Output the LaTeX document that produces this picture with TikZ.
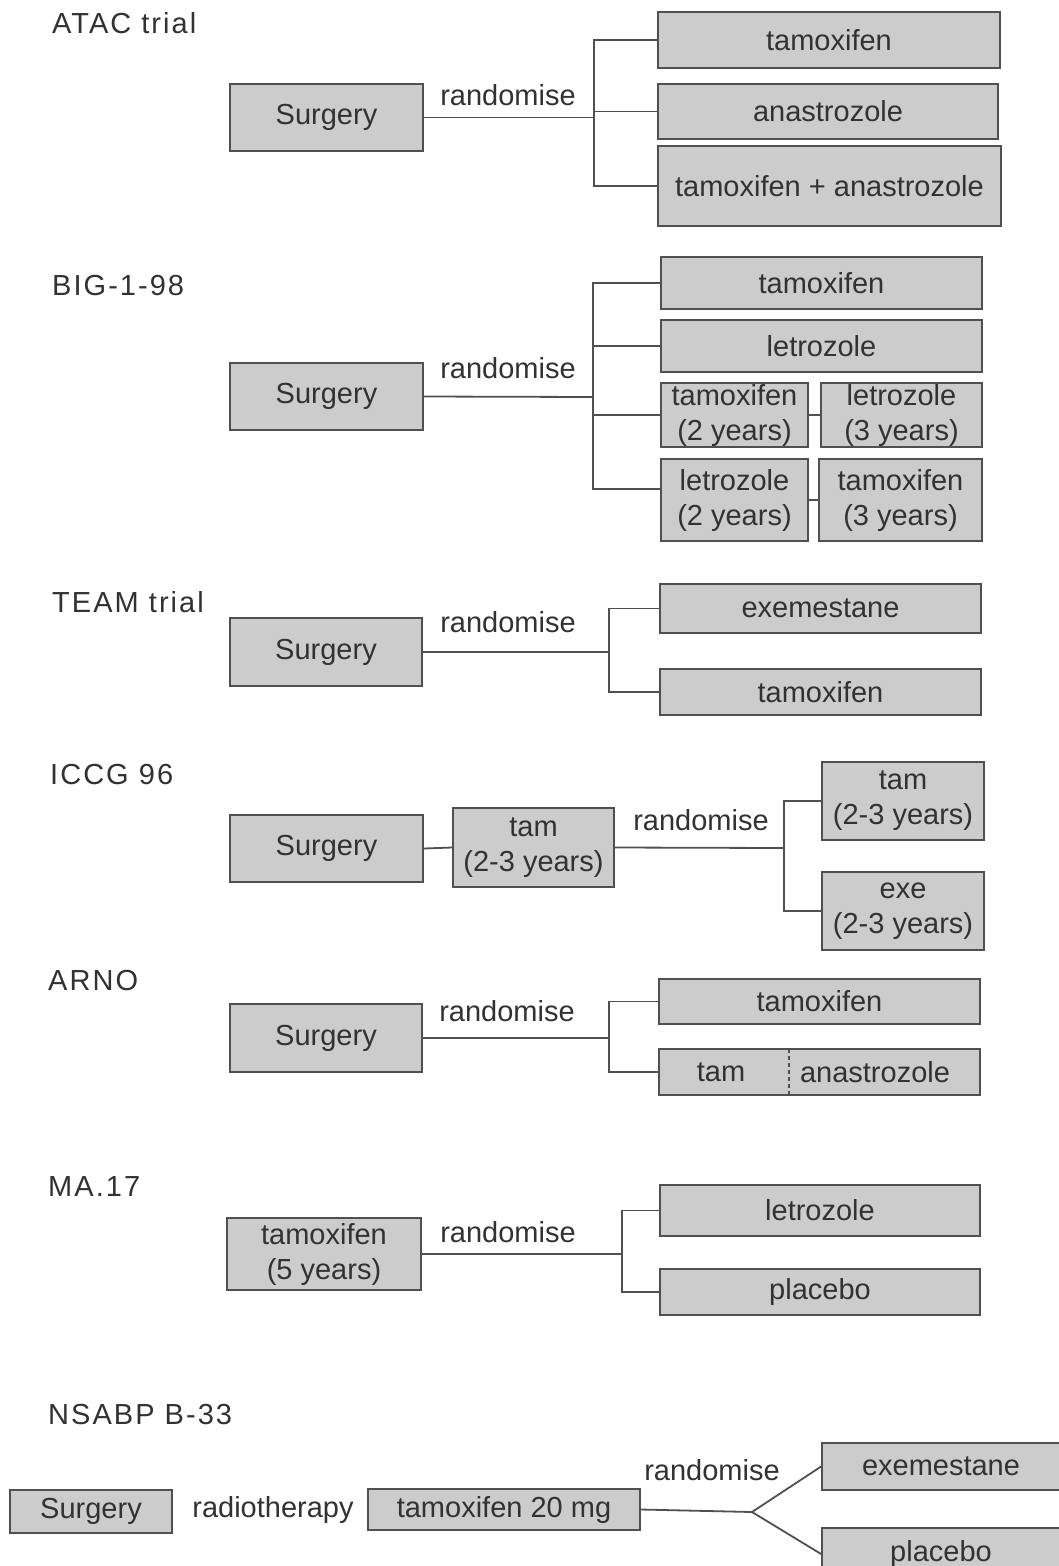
\documentclass[tikz,border=0pt]{standalone}
\usepackage{fontspec}
\setmainfont{Liberation Sans}
\newfontfamily\titlefont[LetterSpace=7]{Liberation Sans}
\begin{document}
\begin{tikzpicture}[x=1pt,y=-1pt,
  every node/.style={font=\fontsize{29}{35}\selectfont, text=txt},
  box/.style={draw=edge, fill=boxfill, line width=1.8pt, inner sep=0pt, align=center},
  lbl/.style={inner sep=0pt},
  ttl/.style={inner sep=0pt, anchor=west, font=\titlefont\fontsize{29}{35}\selectfont},
  conn/.style={draw=edge, line width=1.8pt}]
\definecolor{boxfill}{RGB}{204,204,204}
\definecolor{edge}{RGB}{80,80,80}
\definecolor{txt}{RGB}{50,50,50}
\useasboundingbox (0,0) rectangle (1059,1566);
\clip (0,0) rectangle (1059,1566);
\fill[white] (0,0) rectangle (1059,1566);

% ATAC
\node[ttl] (t1) at (52,23) {ATAC trial};
\node[box, minimum width=193pt, minimum height=67pt] (s1) at (326.5,117.5) {Surgery};
\node[box, minimum width=342pt, minimum height=56pt] (a1) at (829,40) {tamoxifen};
\node[box, minimum width=340pt, minimum height=55pt] (a2) at (828,111.5) {anastrozole};
\node[box, minimum width=343pt, minimum height=80pt] (a3) at (829.5,186) {tamoxifen + anastrozole};
\node[lbl] (r1) at (508,95) {randomise};
\coordinate (j1) at (594,117.5);
\draw[conn] (s1.east) -- (j1);
\draw[conn] (a1.west) -| (j1) |- (a3.west);
\draw[conn] (j1 |- a2.west) -- (a2.west);

% BIG-1-98
\node[ttl] (t2) at (52,286) {BIG-1-98};
\node[box, minimum width=193pt, minimum height=67pt] (s2) at (326.5,396.5) {Surgery};
\node[box, minimum width=321pt, minimum height=52pt] (b1) at (821.5,283) {tamoxifen};
\node[box, minimum width=321pt, minimum height=52pt] (b2) at (821.5,346) {letrozole};
\node[box, minimum width=147pt, minimum height=64pt] (b3) at (734.5,415) {tamoxifen\\(2 years)};
\node[box, minimum width=161pt, minimum height=64pt] (b4) at (901.5,415) {letrozole\\(3 years)};
\node[box, minimum width=147pt, minimum height=82pt] (b5) at (734.5,500) {letrozole\\(2 years)};
\node[box, minimum width=163pt, minimum height=82pt] (b6) at (900.5,500) {tamoxifen\\(3 years)};
\node[lbl] (r2) at (508,368) {randomise};
\coordinate (j2) at (593,397);
\draw[conn] (s2.east) -- (j2);
\draw[conn] (b1.west) -| (j2) |- ([yshift=11pt]b5.west);
\draw[conn] (j2 |- b2.west) -- (b2.west);
\draw[conn] (j2 |- b3.west) -- (b3.west);
\draw[conn] (b3.east) -- (b4.west);
\draw[conn] (b5.east) -- (b6.west);

% TEAM
\node[ttl] (t3) at (52,602) {TEAM trial};
\node[box, minimum width=192pt, minimum height=68pt] (s3) at (326,652) {Surgery};
\node[box, minimum width=321pt, minimum height=49pt] (c1) at (820.5,608.5) {exemestane};
\node[box, minimum width=321pt, minimum height=46pt] (c2) at (820.5,692) {tamoxifen};
\node[lbl] (r3) at (508,622) {randomise};
\coordinate (j3) at (609,652);
\draw[conn] (s3.east) -- (j3);
\draw[conn] (c1.west) -| (j3) |- (c2.west);

% ICCG 96
\node[ttl] (t4) at (50,775) {ICCG 96};
\node[box, minimum width=193pt, minimum height=67pt] (s4) at (326.5,848.5) {Surgery};
\node[box, minimum width=161pt, minimum height=79pt] (d0) at (533.5,847.5) {tam\\(2-3 years)};
\node[box, minimum width=162pt, minimum height=78pt] (d1) at (903,801) {tam\\(2-3 years)};
\node[box, minimum width=162pt, minimum height=78pt] (d2) at (903,911) {exe\\(2-3 years)};
\node[lbl] (r4) at (701,820) {randomise};
\coordinate (j4) at (784,848);
\draw[conn] (s4.east) -- (d0.west);
\draw[conn] (d0.east) -- (j4);
\draw[conn] (d1.west) -| (j4) |- (d2.west);

% ARNO
\node[ttl] (t5) at (48,981) {ARNO};
\node[box, minimum width=192pt, minimum height=68pt] (s5) at (326,1038) {Surgery};
\node[box, minimum width=321pt, minimum height=45pt] (e1) at (819.5,1001.5) {tamoxifen};
\node[box, minimum width=321pt, minimum height=46pt] (e2) at (819.5,1072) {};
\node[lbl] (e2a) at (721,1072) {tam};
\node[lbl] (e2b) at (875,1072) {anastrozole};
\coordinate (dv1) at (789,1049);
\coordinate (dv2) at (789,1095);
\draw[draw=edge, line width=1.5pt, dash pattern=on 4pt off 3pt] (dv1) -- (dv2);
\node[lbl] (r5) at (507,1011) {randomise};
\coordinate (j5) at (609,1038);
\draw[conn] (s5.east) -- (j5);
\draw[conn] (e1.west) -| (j5) |- (e2.west);

% MA.17
\node[ttl] (t6) at (48,1187) {MA.17};
\node[box, minimum width=194pt, minimum height=72pt] (s6) at (324,1254) {tamoxifen\\(5 years)};
\node[box, minimum width=320pt, minimum height=51pt] (f1) at (820,1210.5) {letrozole};
\node[box, minimum width=320pt, minimum height=46pt] (f2) at (820,1292) {placebo};
\node[lbl] (r6) at (508,1232) {randomise};
\coordinate (j6) at (622,1254);
\draw[conn] (s6.east) -- (j6);
\draw[conn] (f1.west) -| (j6) |- (f2.west);

% NSABP B-33
\node[ttl] (t7) at (48,1414) {NSABP B-33};
\node[box, minimum width=162pt, minimum height=43pt] (s7) at (91,1511.5) {Surgery};
\node[lbl] (rt7) at (273,1510) {radiotherapy};
\node[box, minimum width=272pt, minimum height=41pt] (g0) at (504,1509.5) {tamoxifen 20 mg};
\node[box, minimum width=238pt, minimum height=47pt] (g1) at (941,1466.5) {exemestane};
\node[box, minimum width=238pt, minimum height=52pt] (g2) at (941,1554) {\raisebox{4pt}{placebo}};
\node[lbl] (r7) at (712,1470) {randomise};
\coordinate (j7) at (752,1512);
\draw[conn] (g0.east) -- (j7) -- (g1.west);
\draw[conn] (j7) -- (g2.west);
\end{tikzpicture}
\end{document}
